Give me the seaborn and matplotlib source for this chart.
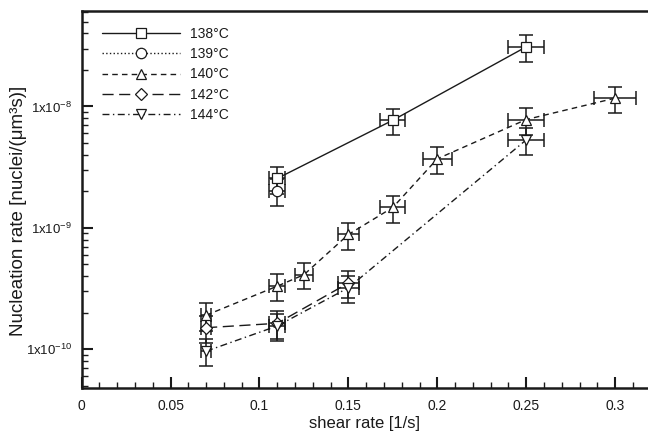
import matplotlib
matplotlib.use("Agg")
import matplotlib.pyplot as plt
import seaborn as sns
import numpy as np
from matplotlib.ticker import FixedLocator, LogLocator, NullFormatter, MultipleLocator

# ---- data ----
labels = ["138°C", "139°C", "140°C", "142°C", "144°C"]

x138 = [0.11, 0.175, 0.25]
y138 = [2.55e-9, 7.7e-9, 3.1e-8]
ye138 = [0.64e-9, 1.9e-9, 7.7e-9]
xe138 = [0.0045, 0.007, 0.010]

x139 = [0.11]
y139 = [2.0e-9]
ye139 = [0.5e-9]
xe139 = [0.0045]

x140 = [0.07, 0.11, 0.125, 0.15, 0.175, 0.2, 0.25, 0.3]
y140 = [1.9e-10, 3.3e-10, 4.1e-10, 8.8e-10, 1.47e-9, 3.7e-9, 7.8e-9, 1.17e-8]
ye140 = [0.48e-10, 0.82e-10, 1.0e-10, 2.2e-10, 0.37e-9, 0.93e-9, 1.95e-9, 0.29e-8]
xe140 = [0.003, 0.0045, 0.005, 0.006, 0.007, 0.008, 0.010, 0.012]

x142 = [0.07, 0.11, 0.15]
y142 = [1.5e-10, 1.63e-10, 3.5e-10]
ye142 = [0.38e-10, 0.41e-10, 0.88e-10]
xe142 = [0.003, 0.0045, 0.006]

x144 = [0.07, 0.11, 0.15, 0.25]
y144 = [9.6e-11, 1.55e-10, 3.2e-10, 5.3e-9]
ye144 = [2.4e-11, 0.39e-10, 0.8e-10, 1.3e-9]
xe144 = [0.003, 0.0045, 0.006, 0.010]

xticks = [0, 0.05, 0.1, 0.15, 0.2, 0.25, 0.3]
xticklabels = ["0", "0.05", "0.1", "0.15", "0.2", "0.25", "0.3"]
yticks = [1e-10, 1e-9, 1e-8]
yticklabels = [r"1x10$^{-10}$", r"1x10$^{-9}$", r"1x10$^{-8}$"]

series = [
    (x138, y138, xe138, ye138, "s", "-"),
    (x139, y139, xe139, ye139, "o", ":"),
    (x140, y140, xe140, ye140, "^", (0, (4, 3))),
    (x142, y142, xe142, ye142, "D", (0, (8, 4))),
    (x144, y144, xe144, ye144, "v", (0, (5, 2.5, 1, 2.5))),
]

sns.set_theme(style="ticks")
plt.rcParams["font.family"] = ["Liberation Sans", "DejaVu Sans"]
plt.rcParams["mathtext.fontset"] = "custom"
plt.rcParams["mathtext.rm"] = "Liberation Sans"
plt.rcParams["mathtext.it"] = "Liberation Sans:italic"
plt.rcParams["mathtext.bf"] = "Liberation Sans:bold"

fig = plt.figure(figsize=(6.48, 4.32), dpi=100)
ax = fig.add_axes([0.126, 0.1025, 0.874, 0.872])

ink = "#1a1a1a"
for (xs, ys, xe, ye, mk, ls), lab in zip(series, labels):
    ax.errorbar(xs, ys, xerr=xe, yerr=ye, fmt="none", ecolor=ink,
                elinewidth=1.1, capsize=5, capthick=1.1, zorder=2)
    msize = 7.5 if mk != "D" else 6.5
    sns.lineplot(x=xs, y=ys, ax=ax, color=ink, linestyle=ls, linewidth=1.0,
                 marker=mk, markersize=msize, markerfacecolor="white",
                 markeredgecolor=ink, markeredgewidth=0.9, label=lab,
                 zorder=3)

ax.set_yscale("log")
ax.set_xlim(0, 0.3185)
ax.set_ylim(4.8e-11, 6.12e-8)

ax.xaxis.set_major_locator(FixedLocator(xticks))
ax.set_xticklabels(xticklabels)
ax.xaxis.set_minor_locator(MultipleLocator(0.01))
ax.yaxis.set_major_locator(FixedLocator(yticks))
ax.set_yticklabels(yticklabels)
ax.yaxis.set_minor_locator(LogLocator(base=10, subs=np.arange(2, 10)))
ax.yaxis.set_minor_formatter(NullFormatter())

ax.tick_params(axis="both", which="major", direction="in", length=8, width=1.5,
               colors=ink, labelsize=10, pad=8)
ax.tick_params(axis="both", which="minor", direction="in", length=4, width=1.0,
               colors=ink)
ax.tick_params(axis="y", which="major", labelsize=9.5, pad=7)

for s in ["left", "bottom", "top"]:
    ax.spines[s].set_linewidth(1.8)
    ax.spines[s].set_color(ink)
ax.spines["right"].set_visible(False)

ax.set_xlabel("shear rate [1/s]", fontsize=12, color=ink, labelpad=2)
ax.set_ylabel("Nucleation rate [nuclei/(μm³s)]", fontsize=13.5, color=ink)
ax.yaxis.set_label_coords(-0.097, 0.47)

leg = ax.legend(loc="upper left", bbox_to_anchor=(0.022, 0.98), frameon=False,
                fontsize=10, handlelength=5.6, handletextpad=0.7,
                labelspacing=0.45, borderaxespad=0.2)
for t in leg.get_texts():
    t.set_color(ink)

fig.savefig("out.png", dpi=100)
